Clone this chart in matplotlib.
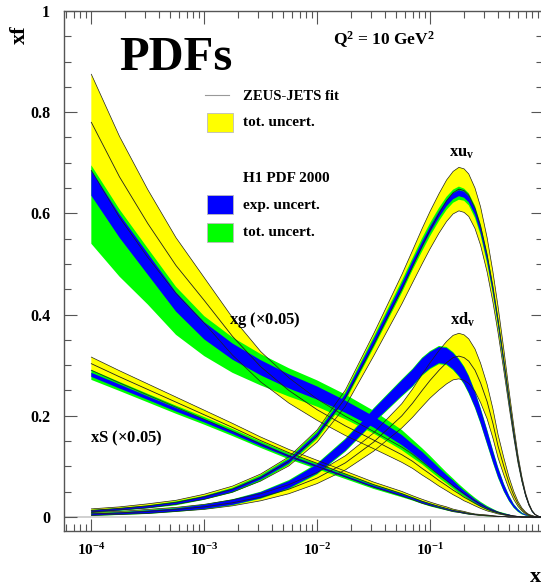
import matplotlib
matplotlib.use("Agg")
import matplotlib.pyplot as plt
from matplotlib.patches import Rectangle
from matplotlib.lines import Line2D
from matplotlib.ticker import FixedLocator, NullFormatter
import numpy as np

plt.rcParams['font.family'] = ['Liberation Serif', 'DejaVu Serif']
plt.rcParams['font.weight'] = 'bold'
plt.rcParams['mathtext.fontset'] = 'custom'
plt.rcParams['mathtext.rm'] = 'Liberation Serif:bold'
plt.rcParams['mathtext.it'] = 'Liberation Serif:bold'
plt.rcParams['mathtext.bf'] = 'Liberation Serif:bold'

# ---------------- data ----------------
x = [1e-4, 1.778e-4, 3.162e-4, 5.623e-4, 1e-3, 1.778e-3, 3.162e-3, 5.623e-3,
     1e-2, 1.778e-2, 3.162e-2, 5.623e-2, 0.07, 0.085, 0.1, 0.12, 0.14, 0.16, 0.18,
     0.2, 0.22, 0.25, 0.28, 0.32, 0.36, 0.4, 0.45, 0.5, 0.55, 0.6, 0.65, 0.7, 0.75,
     0.8, 0.85, 0.9, 0.95, 1.0]

# gluon (x 0.05)
g_zeus = [0.780, 0.672, 0.580, 0.497, 0.428, 0.357, 0.297, 0.250, 0.212, 0.180, 0.152, 0.123,
          0.110, 0.096, 0.085, 0.072, 0.062, 0.053, 0.046, 0.039, 0.034, 0.027, 0.021, 0.015,
          0.011, 0.008, 0.005, 0.003, 0.002, 0.001, 0, 0, 0, 0, 0, 0, 0, 0]
g_zeus_err = [0.095, 0.080, 0.067, 0.055, 0.045, 0.037, 0.030, 0.025, 0.021, 0.019, 0.017, 0.015,
              0.014, 0.013, 0.012, 0.011, 0.010, 0.009, 0.008, 0.007, 0.006, 0.005, 0.004, 0.003,
              0.002, 0.002, 0.001, 0.001, 0, 0, 0, 0, 0, 0, 0, 0, 0, 0]
g_h1 = [0.660, 0.575, 0.500, 0.425, 0.368, 0.327, 0.295, 0.268, 0.245, 0.218, 0.188, 0.152,
        0.135, 0.120, 0.106, 0.090, 0.077, 0.066, 0.056, 0.048, 0.041, 0.032, 0.025, 0.018,
        0.013, 0.009, 0.006, 0.004, 0.002, 0.001, 0, 0, 0, 0, 0, 0, 0, 0]
g_h1_exp = [0.025, 0.023, 0.021, 0.019, 0.017, 0.016, 0.015, 0.014, 0.013, 0.012, 0.011, 0.010,
            0.009, 0.009, 0.008, 0.007, 0.006, 0.006, 0.005, 0.004, 0.004, 0.003, 0.003, 0.002,
            0.002, 0.001, 0.001, 0.001, 0, 0, 0, 0, 0, 0, 0, 0, 0, 0]
g_h1_up = [0.035, 0.033, 0.031, 0.030, 0.029, 0.028, 0.027, 0.026, 0.025, 0.024, 0.022, 0.020,
           0.018, 0.016, 0.015, 0.013, 0.011, 0.010, 0.009, 0.008, 0.007, 0.006, 0.005, 0.004,
           0.003, 0.002, 0.002, 0.001, 0, 0, 0, 0, 0, 0, 0, 0, 0, 0]
g_h1_dn = [0.120, 0.100, 0.080, 0.065, 0.050, 0.042, 0.035, 0.030, 0.027, 0.025, 0.023, 0.020,
           0.018, 0.016, 0.015, 0.013, 0.011, 0.010, 0.009, 0.008, 0.007, 0.006, 0.005, 0.004,
           0.003, 0.002, 0.002, 0.001, 0, 0, 0, 0, 0, 0, 0, 0, 0, 0]

# sea (x 0.05)
s_zeus = [0.303, 0.277, 0.252, 0.227, 0.202, 0.177, 0.151, 0.127, 0.106, 0.085, 0.064, 0.046,
          0.038, 0.031, 0.026, 0.021, 0.017, 0.013, 0.011, 0.009, 0.007, 0.005, 0.004, 0.003,
          0.002, 0.001, 0.001, 0, 0, 0, 0, 0, 0, 0, 0, 0, 0, 0]
s_zeus_err = [0.013, 0.012, 0.011, 0.010, 0.009, 0.008, 0.007, 0.0065, 0.006, 0.0055, 0.005,
              0.0045, 0.004, 0.004, 0.0035, 0.003, 0.003, 0.0025, 0.002, 0.002, 0.0015, 0.001,
              0.001, 0.001, 0.0005, 0.0005, 0, 0, 0, 0, 0, 0, 0, 0, 0, 0, 0, 0]
s_h1 = [0.281, 0.258, 0.235, 0.212, 0.190, 0.167, 0.143, 0.120, 0.100, 0.080, 0.060, 0.043,
        0.036, 0.029, 0.024, 0.019, 0.015, 0.012, 0.010, 0.008, 0.006, 0.005, 0.003, 0.002,
        0.001, 0.001, 0, 0, 0, 0, 0, 0, 0, 0, 0, 0, 0, 0]
s_h1_exp = [0.004, 0.004, 0.0035, 0.0035, 0.003, 0.003, 0.003, 0.0025, 0.0025, 0.002, 0.002,
            0.002, 0.0015, 0.0015, 0.0015, 0.001, 0.001, 0.001, 0.001, 0.001, 0.0005, 0.0005,
            0, 0, 0, 0, 0, 0, 0, 0, 0, 0, 0, 0, 0, 0, 0, 0]
s_h1_tot = [0.010, 0.009, 0.0085, 0.008, 0.0075, 0.007, 0.0065, 0.006, 0.0055, 0.005, 0.0045,
            0.004, 0.0035, 0.003, 0.003, 0.0025, 0.002, 0.002, 0.0015, 0.0015, 0.001, 0.001,
            0.0005, 0.0005, 0, 0, 0, 0, 0, 0, 0, 0, 0, 0, 0, 0, 0, 0]

# u valence
u_zeus = [0.013, 0.017, 0.022, 0.029, 0.040, 0.055, 0.078, 0.110, 0.160, 0.235, 0.340, 0.450,
          0.495, 0.535, 0.567, 0.600, 0.625, 0.641, 0.648, 0.645, 0.636, 0.610, 0.575, 0.518,
          0.455, 0.390, 0.310, 0.235, 0.170, 0.115, 0.075, 0.045, 0.025, 0.012, 0.005, 0.002,
          0, 0]
u_zeus_err = [0.003, 0.003, 0.004, 0.004, 0.005, 0.006, 0.007, 0.009, 0.012, 0.016, 0.022, 0.029,
              0.032, 0.035, 0.037, 0.039, 0.041, 0.042, 0.043, 0.043, 0.042, 0.040, 0.038, 0.034,
              0.030, 0.026, 0.021, 0.016, 0.012, 0.008, 0.005, 0.003, 0.002, 0.001, 0.0005, 0,
              0, 0]
u_h1 = [0.011, 0.015, 0.020, 0.027, 0.038, 0.053, 0.077, 0.110, 0.162, 0.238, 0.345, 0.455,
        0.500, 0.538, 0.568, 0.598, 0.620, 0.634, 0.640, 0.637, 0.628, 0.603, 0.568, 0.512,
        0.450, 0.385, 0.305, 0.230, 0.165, 0.112, 0.072, 0.043, 0.024, 0.011, 0.004, 0.001,
        0, 0]
u_h1_exp = [0.002, 0.002, 0.002, 0.002, 0.003, 0.003, 0.003, 0.004, 0.004, 0.005, 0.006, 0.006,
            0.006, 0.006, 0.006, 0.006, 0.006, 0.006, 0.006, 0.006, 0.006, 0.006, 0.006, 0.006,
            0.006, 0.005, 0.005, 0.004, 0.004, 0.003, 0.002, 0.002, 0.001, 0.001, 0, 0, 0, 0]
u_h1_tot = [0.003, 0.003, 0.003, 0.004, 0.004, 0.005, 0.006, 0.007, 0.008, 0.009, 0.011, 0.012,
            0.012, 0.013, 0.013, 0.013, 0.013, 0.013, 0.013, 0.012, 0.012, 0.012, 0.011, 0.011,
            0.010, 0.009, 0.008, 0.007, 0.006, 0.004, 0.003, 0.002, 0.001, 0.001, 0, 0, 0, 0]

# d valence
d_zeus = [0.006, 0.008, 0.011, 0.015, 0.020, 0.028, 0.039, 0.055, 0.077, 0.107, 0.148, 0.200,
          0.225, 0.250, 0.270, 0.290, 0.305, 0.315, 0.318, 0.315, 0.308, 0.290, 0.265, 0.228,
          0.185, 0.140, 0.100, 0.067, 0.043, 0.026, 0.015, 0.008, 0.004, 0.002, 0.001, 0, 0, 0]
d_zeus_err = [0.003, 0.003, 0.004, 0.004, 0.005, 0.006, 0.007, 0.009, 0.011, 0.014, 0.018, 0.024,
              0.028, 0.032, 0.035, 0.039, 0.042, 0.044, 0.045, 0.045, 0.044, 0.042, 0.039, 0.034,
              0.029, 0.023, 0.017, 0.012, 0.008, 0.005, 0.003, 0.002, 0.001, 0.001, 0, 0, 0, 0]
d_h1 = [0.005, 0.007, 0.010, 0.014, 0.020, 0.029, 0.043, 0.064, 0.095, 0.142, 0.200, 0.255,
        0.275, 0.297, 0.310, 0.320, 0.318, 0.308, 0.295, 0.280, 0.262, 0.232, 0.200, 0.158,
        0.120, 0.088, 0.058, 0.037, 0.022, 0.013, 0.007, 0.004, 0.002, 0.001, 0, 0, 0, 0]
d_h1_exp = [0.002, 0.002, 0.003, 0.003, 0.004, 0.005, 0.006, 0.007, 0.009, 0.011, 0.013, 0.015,
            0.016, 0.016, 0.016, 0.016, 0.016, 0.016, 0.016, 0.016, 0.016, 0.015, 0.014, 0.013,
            0.011, 0.009, 0.007, 0.005, 0.003, 0.002, 0.001, 0.001, 0, 0, 0, 0, 0, 0]
d_h1_tot = [0.003, 0.003, 0.004, 0.004, 0.005, 0.006, 0.007, 0.009, 0.011, 0.013, 0.015, 0.017,
            0.018, 0.018, 0.018, 0.018, 0.018, 0.018, 0.018, 0.018, 0.018, 0.017, 0.016, 0.015,
            0.013, 0.011, 0.008, 0.006, 0.004, 0.003, 0.002, 0.001, 0.001, 0, 0, 0, 0, 0]

x_ticks = [1e-4, 1e-3, 1e-2, 1e-1]
x_tick_labels = ['$10^{-4}$', '$10^{-3}$', '$10^{-2}$', '$10^{-1}$']
y_ticks = [0, 0.2, 0.4, 0.6, 0.8, 1.0]
y_tick_labels = ['0', '0.2', '0.4', '0.6', '0.8', '1']

YELLOW = '#FFFF00'
BLUE = '#0000FF'
GREEN = '#00FF00'
EDGE = '#202020'

# ---------------- figure ----------------
W, H = 541, 586
fig = plt.figure(figsize=(W / 100, H / 100), dpi=100)
ax = fig.add_axes([64 / W, 1 - 531 / H, (543 - 64) / W, (531 - 11) / H])

xa = np.array(x)


def zeus_band(c, e):
    c = np.array(c); e = np.array(e)
    ax.fill_between(xa, c - e, c + e, facecolor=YELLOW, edgecolor='none', zorder=2)


def zeus_lines(c, e):
    c = np.array(c); e = np.array(e)
    ax.plot(xa, c + e, color=EDGE, lw=0.5, zorder=6)
    ax.plot(xa, c - e, color=EDGE, lw=0.5, zorder=6)
    ax.plot(xa, c, color=EDGE, lw=0.6, zorder=6)


def h1_band(c, ex, tup, tdn):
    c = np.array(c); ex = np.array(ex); tup = np.array(tup); tdn = np.array(tdn)
    ax.fill_between(xa, c - tdn, c + tup, facecolor=GREEN, edgecolor='none', zorder=3)
    ax.fill_between(xa, c - ex, c + ex, facecolor=BLUE, edgecolor='none', zorder=4)


zeus_band(g_zeus, g_zeus_err)
zeus_band(s_zeus, s_zeus_err)
zeus_band(u_zeus, u_zeus_err)
zeus_band(d_zeus, d_zeus_err)
h1_band(g_h1, g_h1_exp, g_h1_up, g_h1_dn)
h1_band(s_h1, s_h1_exp, s_h1_tot, s_h1_tot)
h1_band(u_h1, u_h1_exp, u_h1_tot, u_h1_tot)
h1_band(d_h1, d_h1_exp, d_h1_tot, d_h1_tot)
zeus_lines(g_zeus, g_zeus_err)
zeus_lines(s_zeus, s_zeus_err)
zeus_lines(u_zeus, u_zeus_err)
zeus_lines(d_zeus, d_zeus_err)

ax.axhline(0, color='#c8c8c8', lw=1.2, zorder=1)

ax.set_xscale('log')
ax.set_xlim(10 ** -4.242, 1.0)
ax.set_ylim(-0.0277, 1.0)

ax.xaxis.set_major_locator(FixedLocator(x_ticks))
ax.set_xticklabels(x_tick_labels)
minor = [m * 10.0 ** e for e in range(-5, 0) for m in range(2, 10)]
ax.xaxis.set_minor_locator(FixedLocator(minor))
ax.xaxis.set_minor_formatter(NullFormatter())
ax.yaxis.set_major_locator(FixedLocator(y_ticks))
ax.set_yticklabels(y_tick_labels)
ax.yaxis.set_minor_locator(FixedLocator(np.arange(0, 1.0001, 0.05)))

ax.tick_params(which='both', direction='in', top=True, right=True, color='#555555', width=0.8)
ax.tick_params(which='major', length=9)
ax.tick_params(which='minor', length=5)
ax.tick_params(axis='y', labelsize=11.5, pad=10)
ax.tick_params(axis='x', labelsize=11, pad=8)
for lab in ax.get_xticklabels() + ax.get_yticklabels():
    lab.set_fontweight('bold')
for sp in ax.spines.values():
    sp.set_color('#555555')
    sp.set_linewidth(1.0)

# ---------------- texts ----------------
def ftext(px, py, s, **kw):
    fig.text(px / W, 1 - py / H, s, **kw)

ftext(20, 35, 'xf', rotation=90, fontsize=16, fontweight='bold', ha='center', va='center')
ftext(535, 577, 'x', fontsize=16, fontweight='bold', ha='center', va='center')
ftext(176, 58, 'PDFs', fontsize=35, fontweight='bold', ha='center', va='center')
ftext(333, 40, r'Q$^{2}$ = 10 GeV$^{2}$', fontsize=12.5, fontweight='bold', ha='left', va='center')

ftext(462, 153, r'xu$_{\rm v}$', fontsize=12, ha='center', va='center')
ftext(463, 320, r'xd$_{\rm v}$', fontsize=12, ha='center', va='center')
ftext(229, 320, r'xg ($\times$0.05)', fontsize=12, ha='left', va='center')
ftext(90, 438, r'xS ($\times$0.05)', fontsize=12, ha='left', va='center')

# legend
fig.lines.append(Line2D([205 / W, 229 / W], [1 - 95 / H, 1 - 95 / H], color='#999999', lw=0.8,
                        transform=fig.transFigure))
ftext(243, 96, 'ZEUS-JETS fit', fontsize=10.5, ha='left', va='center')
for (y0, y1, col) in [(113, 132, YELLOW), (195, 214, BLUE), (223, 242, GREEN)]:
    fig.patches.append(Rectangle((207 / W, 1 - y1 / H), 26 / W, (y1 - y0) / H, facecolor=col,
                                 edgecolor='#bbbbbb', lw=0.6, transform=fig.transFigure))
ftext(243, 122, 'tot. uncert.', fontsize=11, ha='left', va='center')
ftext(243, 178, 'H1 PDF 2000', fontsize=11, ha='left', va='center')
ftext(243, 205, 'exp. uncert.', fontsize=11, ha='left', va='center')
ftext(243, 232, 'tot. uncert.', fontsize=11, ha='left', va='center')

fig.savefig('out.png', dpi=100)
